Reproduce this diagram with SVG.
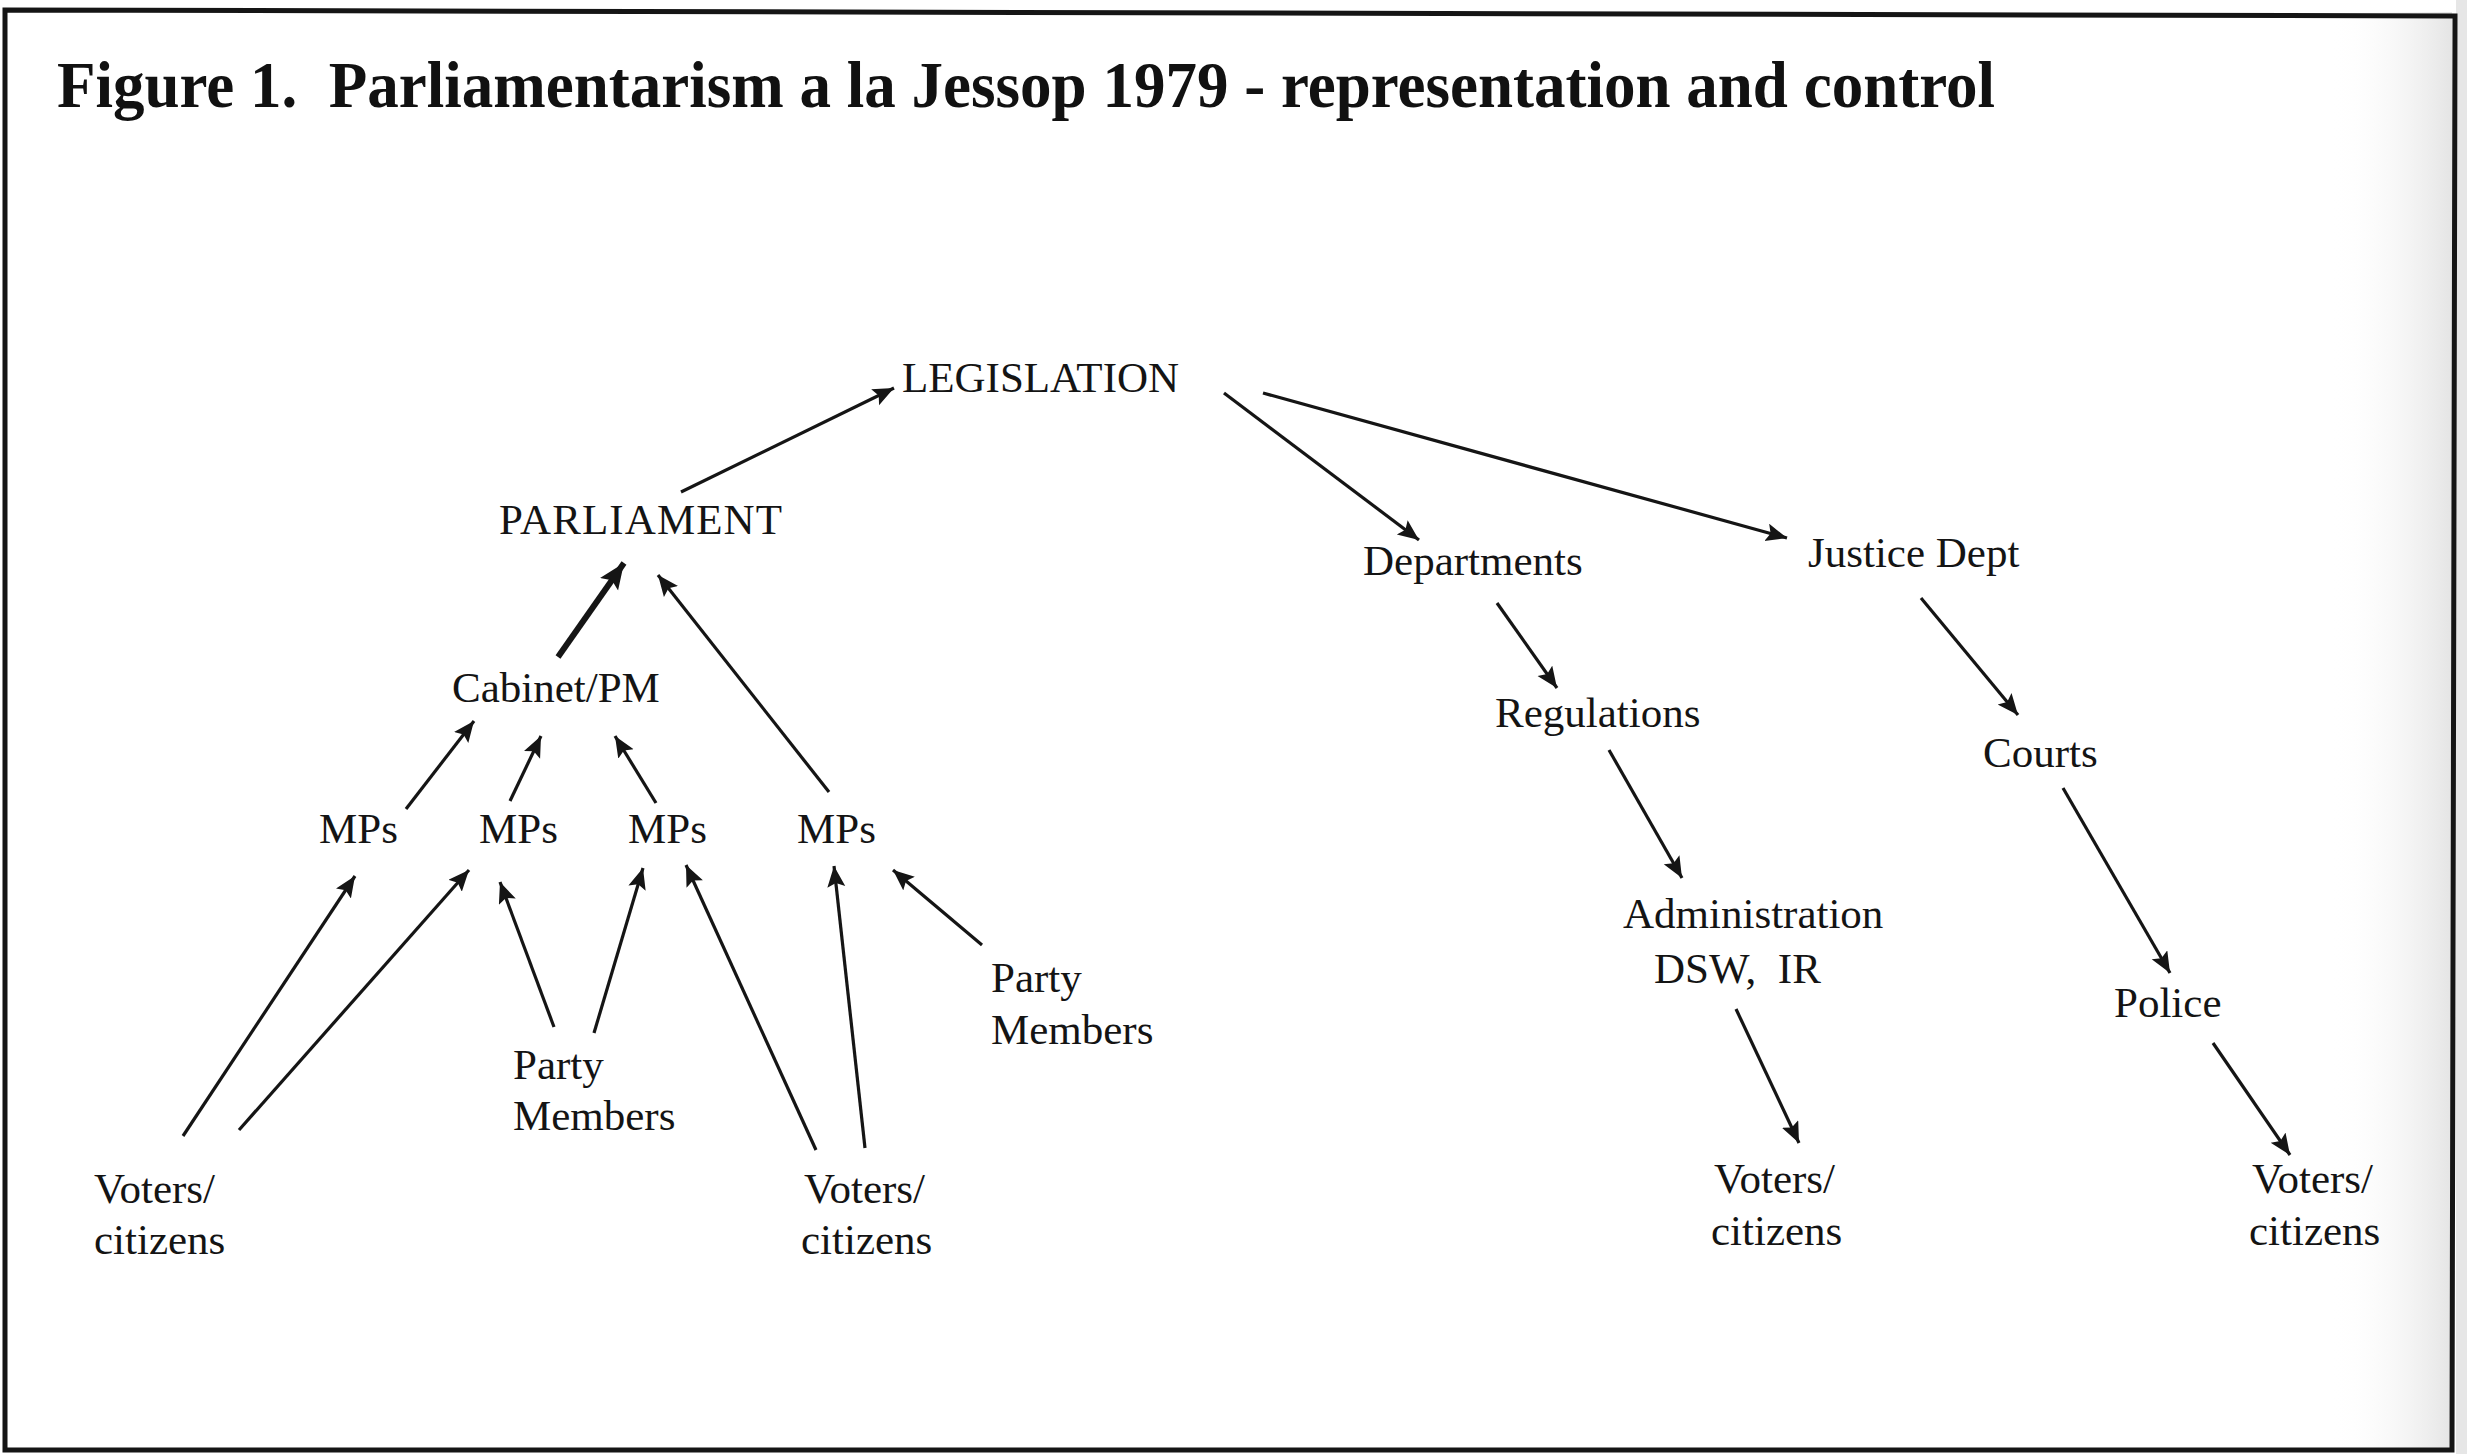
<svg xmlns="http://www.w3.org/2000/svg" width="2467" height="1454" viewBox="0 0 2467 1454">
<defs>
<marker id="ah" markerUnits="userSpaceOnUse" markerWidth="24" markerHeight="20" refX="21" refY="9" orient="auto">
<path d="M0,0 L21,9 L0,18 L4,9 z" fill="#151515"/>
</marker>
<marker id="ahb" markerUnits="userSpaceOnUse" markerWidth="30" markerHeight="24" refX="26" refY="11" orient="auto">
<path d="M0,0 L26,11 L0,22 L5,11 z" fill="#151515"/>
</marker>
<linearGradient id="edge" x1="0" y1="0" x2="1" y2="0">
<stop offset="0" stop-color="#ffffff" stop-opacity="0"/>
<stop offset="1" stop-color="#dedede" stop-opacity="0.8"/>
</linearGradient>
<style>
.t{font-family:"Liberation Serif","Times New Roman",serif;font-size:43px;fill:#141414;white-space:pre}
.title{font-family:"Liberation Serif","Times New Roman",serif;font-size:66px;font-weight:bold;fill:#111;white-space:pre}
.c{stroke:#151515;stroke-width:3.2;fill:none;marker-end:url(#ah)}
.cb{stroke:#151515;stroke-width:6;fill:none;marker-end:url(#ahb)}
</style>
</defs>
<rect x="0" y="0" width="2467" height="1454" fill="#ffffff"/>
<rect x="2330" y="12" width="122" height="1436" fill="url(#edge)"/>
<rect x="2456" y="0" width="11" height="1454" fill="#e6e6e6"/>
<path d="M5,10 L2455,16 L2452,1450 L5,1450 Z" fill="none" stroke="#151515" stroke-width="5"/>
<text class="title" x="57" y="107" textLength="1938" lengthAdjust="spacingAndGlyphs">Figure 1.  Parliamentarism a la Jessop 1979 - representation and control</text>

<g id="connectors">
<line class="c" x1="681" y1="492" x2="894" y2="388"/>
<line class="cb" x1="558" y1="657" x2="624" y2="563"/>
<line class="c" x1="829" y1="792" x2="658" y2="575"/>
<line class="c" x1="406" y1="809" x2="474" y2="721"/>
<line class="c" x1="510" y1="801" x2="541" y2="736"/>
<line class="c" x1="656" y1="803" x2="615" y2="736"/>
<line class="c" x1="183" y1="1136" x2="355" y2="876"/>
<line class="c" x1="239" y1="1130" x2="469" y2="870"/>
<line class="c" x1="554" y1="1027" x2="500" y2="882"/>
<line class="c" x1="594" y1="1033" x2="643" y2="868"/>
<line class="c" x1="816" y1="1150" x2="686" y2="865"/>
<line class="c" x1="865" y1="1148" x2="834" y2="866"/>
<line class="c" x1="982" y1="945" x2="893" y2="870"/>
<line class="c" x1="1224" y1="393" x2="1419" y2="540"/>
<line class="c" x1="1263" y1="393" x2="1787" y2="538"/>
<line class="c" x1="1497" y1="603" x2="1557" y2="688"/>
<line class="c" x1="1921" y1="598" x2="2018" y2="715"/>
<line class="c" x1="1609" y1="750" x2="1682" y2="878"/>
<line class="c" x1="2063" y1="788" x2="2170" y2="973"/>
<line class="c" x1="1736" y1="1009" x2="1799" y2="1143"/>
<line class="c" x1="2213" y1="1043" x2="2290" y2="1155"/>
</g>

<g id="legislation"><text class="t" x="902" y="392">LEGISLATION</text></g>
<g id="parliament"><text class="t" x="499" y="534" textLength="283">PARLIAMENT</text></g>
<g id="cabinet"><text class="t" x="452" y="702">Cabinet/PM</text></g>
<g id="mps1"><text class="t" x="319" y="843">MPs</text></g>
<g id="mps2"><text class="t" x="479" y="843">MPs</text></g>
<g id="mps3"><text class="t" x="628" y="843">MPs</text></g>
<g id="mps4"><text class="t" x="797" y="843">MPs</text></g>
<g id="party1"><text class="t" x="513" y="1079">Party</text><text class="t" x="513" y="1130">Members</text></g>
<g id="party2"><text class="t" x="991" y="992">Party</text><text class="t" x="991" y="1044">Members</text></g>
<g id="voters1"><text class="t" x="94" y="1203">Voters/</text><text class="t" x="94" y="1254">citizens</text></g>
<g id="voters2"><text class="t" x="804" y="1203">Voters/</text><text class="t" x="801" y="1254">citizens</text></g>
<g id="departments"><text class="t" x="1363" y="575">Departments</text></g>
<g id="justice"><text class="t" x="1808" y="567">Justice Dept</text></g>
<g id="regulations"><text class="t" x="1495" y="727">Regulations</text></g>
<g id="courts"><text class="t" x="1983" y="767">Courts</text></g>
<g id="administration"><text class="t" x="1623" y="928">Administration</text><text class="t" x="1654" y="983">DSW,  IR</text></g>
<g id="police"><text class="t" x="2114" y="1017">Police</text></g>
<g id="voters3"><text class="t" x="1714" y="1193">Voters/</text><text class="t" x="1711" y="1245">citizens</text></g>
<g id="voters4"><text class="t" x="2252" y="1193">Voters/</text><text class="t" x="2249" y="1245">citizens</text></g>
</svg>
